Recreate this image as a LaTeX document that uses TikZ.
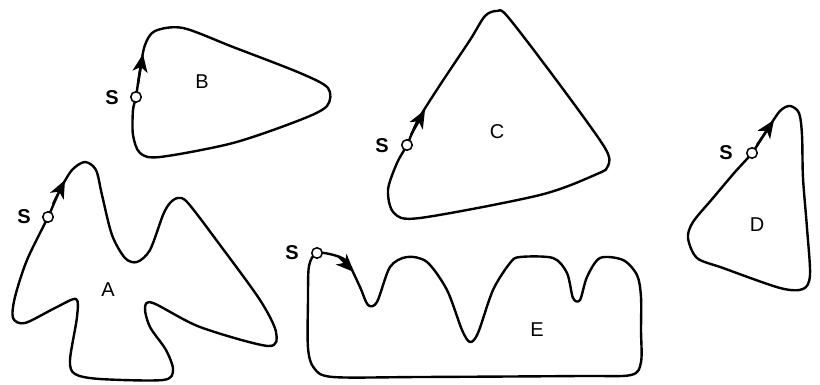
\documentclass[tikz,border=0pt]{standalone}
\usepackage{fontspec}
\setmainfont{Liberation Sans}
\usetikzlibrary{arrows.meta}
\begin{document}
\begin{tikzpicture}[x=1pt,y=-1pt,
  loop/.style={line width=2.4pt, line join=round},
  dirtip/.style={line width=2.4pt, -{Stealth[length=18pt,width=15pt,inset=5pt]}},
  start/.style={circle, draw, fill=white, line width=1.5pt, inner sep=0pt, minimum size=10.5pt},
  slabel/.style={font=\bfseries\fontsize{20}{20}\selectfont, inner sep=0pt},
  rlabel/.style={font=\fontsize{20}{20}\selectfont, inner sep=0pt}]
\useasboundingbox (0,0) rectangle (820,385);

% A
\draw[loop] plot[smooth cycle] coordinates {
 (48,217) (60,190) (72,170) (85,162) (96,170) (102,195) (112,235) (125,258)
 (137,262) (150,250) (163,215) (170,203) (178,198) (188,203) (220,245) (260,300)
 (276,332) (268,346) (200,327) (153,303) (145,308) (150,327) (166,350) (173,370)
 (163,380) (100,379) (75,374) (70,360) (77,317) (76,299) (55,308) (25,323)
 (13,318) (15,297) (27,260)};
\coordinate (fA) at (53,204);
\coordinate (tA) at (65,180);
\draw[dirtip] (fA) -- (tA);
\node[start] (sA) at (48,217) {};
\node[slabel] (lsA) at (24,217) {S};
\node[rlabel] (lA) at (108,290) {A};

% B
\draw[loop] plot[smooth cycle] coordinates {
 (136,97) (140,70) (145,45) (155,31) (183,28) (233,47) (300,73) (328,88)
 (327,106) (300,120) (233,143) (160,157) (140,153) (133,135) (133,110)};
\coordinate (fB) at (138,84);
\coordinate (tB) at (143,54);
\draw[dirtip] (fB) -- (tB);
\node[start] (sB) at (136,97) {};
\node[slabel] (lsB) at (112,98) {S};
\node[rlabel] (lB) at (202,82) {B};

% C
\draw[loop] plot[smooth cycle] coordinates {
 (407,145) (418,120) (440,85) (470,40) (485,16) (497,11) (508,17) (560,85)
 (605,148) (608,166) (597,174) (540,195) (420,218) (394,213) (388,190) (397,163)};
\coordinate (fC) at (411,135);
\coordinate (tC) at (425,110);
\draw[dirtip] (fC) -- (tC);
\node[start] (sC) at (407,145) {};
\node[slabel] (lsC) at (382,146) {S};
\node[rlabel] (lC) at (497,132) {C};

% D
\draw[loop] plot[smooth cycle] coordinates {
 (752,153) (767,130) (780,111) (790,106) (799,113) (802,135) (803,178) (807,228)
 (810,275) (803,289) (780,288) (723,268) (697,258) (688,238) (693,222) (713,198) (735,172)};
\coordinate (fD) at (757,145);
\coordinate (tD) at (774,120);
\draw[dirtip] (fD) -- (tD);
\node[start] (sD) at (752,153) {};
\node[slabel] (lsD) at (726,153) {S};
\node[rlabel] (lD) at (757,225) {D};

% E
\draw[loop] plot[smooth cycle] coordinates {
 (317,253) (337,256) (348,263) (360,287) (368,305) (377,302) (390,267) (407,257)
 (427,262) (447,290) (462,330) (470,342) (478,333) (493,290) (510,263) (520,257)
 (553,258) (567,273) (573,298) (580,300) (587,277) (600,258) (623,260) (637,275)
 (641,297) (641,330) (641,362) (631,375) (580,376) (420,377) (333,377) (314,368)
 (308,348) (308,300) (309,266)};
\coordinate (fE) at (338,256);
\coordinate (tE) at (354,272);
\draw[dirtip] (fE) -- (tE);
\node[start] (sE) at (317,253) {};
\node[slabel] (lsE) at (292,253) {S};
\node[rlabel] (lE) at (537,330) {E};
\end{tikzpicture}
\end{document}
